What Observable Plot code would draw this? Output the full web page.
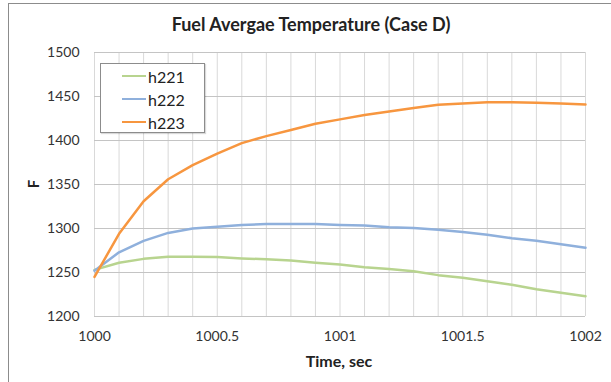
<!DOCTYPE html>
<html><head><meta charset="utf-8">
<script src="https://cdn.jsdelivr.net/npm/d3@7"></script>
<script src="https://cdn.jsdelivr.net/npm/@observablehq/plot@0.6"></script>
<style>
body{margin:0;background:#fff;font-family:Lato,"Open Sans",sans-serif}
#wrap{position:relative;width:611px;height:382px;overflow:hidden;background:#fff}
#frame{position:absolute;left:8px;top:3px;width:700px;height:500px;border-left:1px solid #8c8c8c;border-top:1px solid #8c8c8c;box-sizing:border-box}
#title{position:absolute;left:0;width:622px;top:13px;text-align:center;font-weight:bold;font-size:18px;color:#222}
#chart{position:absolute;left:0;top:0}
#xlabel{position:absolute;left:239px;width:200px;top:351px;text-align:center;font-weight:bold;font-size:16px;color:#222}
#ylabel{position:absolute;left:26px;top:174px;width:16px;height:20px;text-align:center;font-weight:bold;font-size:15px;color:#222;transform:rotate(-90deg)}
#legend{position:absolute;left:100px;top:63px;width:105px;height:70px;box-sizing:border-box;border:1px solid #8c8c8c;background:#fff;box-shadow:1px 1px 1px rgba(0,0,0,0.15)}
.row{position:absolute;left:0;height:20px;display:flex;align-items:center;font-size:16px;color:#222}
.sw{width:24px;height:0;border-top:2.5px solid;margin-left:21px;margin-right:2px}
</style>
</head><body>
<div id="wrap">
<div id="frame"></div>
<div id="title">Fuel Avergae Temperature (Case D)</div>
<div id="chart"></div>
<div id="xlabel">Time, sec</div>
<div id="ylabel">F</div>
<div id="legend"></div>
</div>
<script>
const times = [1000, 1000.1, 1000.2, 1000.3, 1000.4, 1000.5, 1000.6, 1000.7, 1000.8, 1000.9, 1001, 1001.1, 1001.2, 1001.3, 1001.4, 1001.5, 1001.6, 1001.7, 1001.8, 1001.9, 1002];
const h221 = [1253, 1261, 1265.5, 1268, 1268, 1267.5, 1266, 1265, 1263.5, 1261, 1259, 1256, 1254, 1251.5, 1247, 1244, 1240, 1236, 1231, 1227, 1223];
const h222 = [1252, 1273, 1286, 1295, 1300, 1302, 1304, 1305, 1305, 1305, 1304, 1303.5, 1301.5, 1300.5, 1298.5, 1296, 1293, 1289, 1286, 1282, 1278];
const h223 = [1245, 1294, 1331, 1356, 1372, 1385, 1397, 1405, 1412, 1419, 1424, 1429, 1433, 1437, 1440.5, 1442, 1443.5, 1443.5, 1443, 1442, 1441];
const seriesNames = ["h221", "h222", "h223"];
const seriesColors = ["#b8d48f", "#8fb0dc", "#f7963f"];
const xTicks = [1000, 1000.5, 1001, 1001.5, 1002];
const yTicks = [1200, 1250, 1300, 1350, 1400, 1450, 1500];

const seriesValues = [h221, h222, h223];
const rows = seriesValues.map((vals, k) => times.map((t, i) => ({t, v: vals[i], s: seriesNames[k]})));

const chart = Plot.plot({
  width: 611, height: 382,
  marginLeft: 94, marginRight: 26, marginTop: 52, marginBottom: 66,
  x: {domain: [1000, 1002], label: null},
  y: {domain: [1200, 1500], label: null},
  style: {fontFamily: "Lato, 'Open Sans', sans-serif", fontSize: "14px", color: "#333", background: "transparent"},
  marks: [
    Plot.gridX(times, {stroke: "#d9d9d9", strokeOpacity: 1, strokeWidth: 1}),
    Plot.gridY(yTicks, {stroke: "#c4c4c4", strokeOpacity: 1, strokeWidth: 1}),
    Plot.axisX(xTicks, {tickSize: 0, tickPadding: 15, tickFormat: d => String(d), fill: "#333"}),
    Plot.axisY(yTicks, {tickSize: 0, tickPadding: 15, tickFormat: d => String(d), fill: "#333"}),
    ...rows.map((r, k) => Plot.line(r, {x: "t", y: "v", stroke: seriesColors[k], strokeWidth: 2.5}))
  ]
});
document.getElementById("chart").appendChild(chart);

const legend = document.getElementById("legend");
seriesNames.forEach((n, k) => {
  const row = document.createElement("div");
  row.className = "row";
  row.style.top = (2 + k * 23) + "px";
  row.innerHTML = `<span class="sw" style="border-color:${seriesColors[k]}"></span><span>${n}</span>`;
  legend.appendChild(row);
});
</script>
</body></html>
